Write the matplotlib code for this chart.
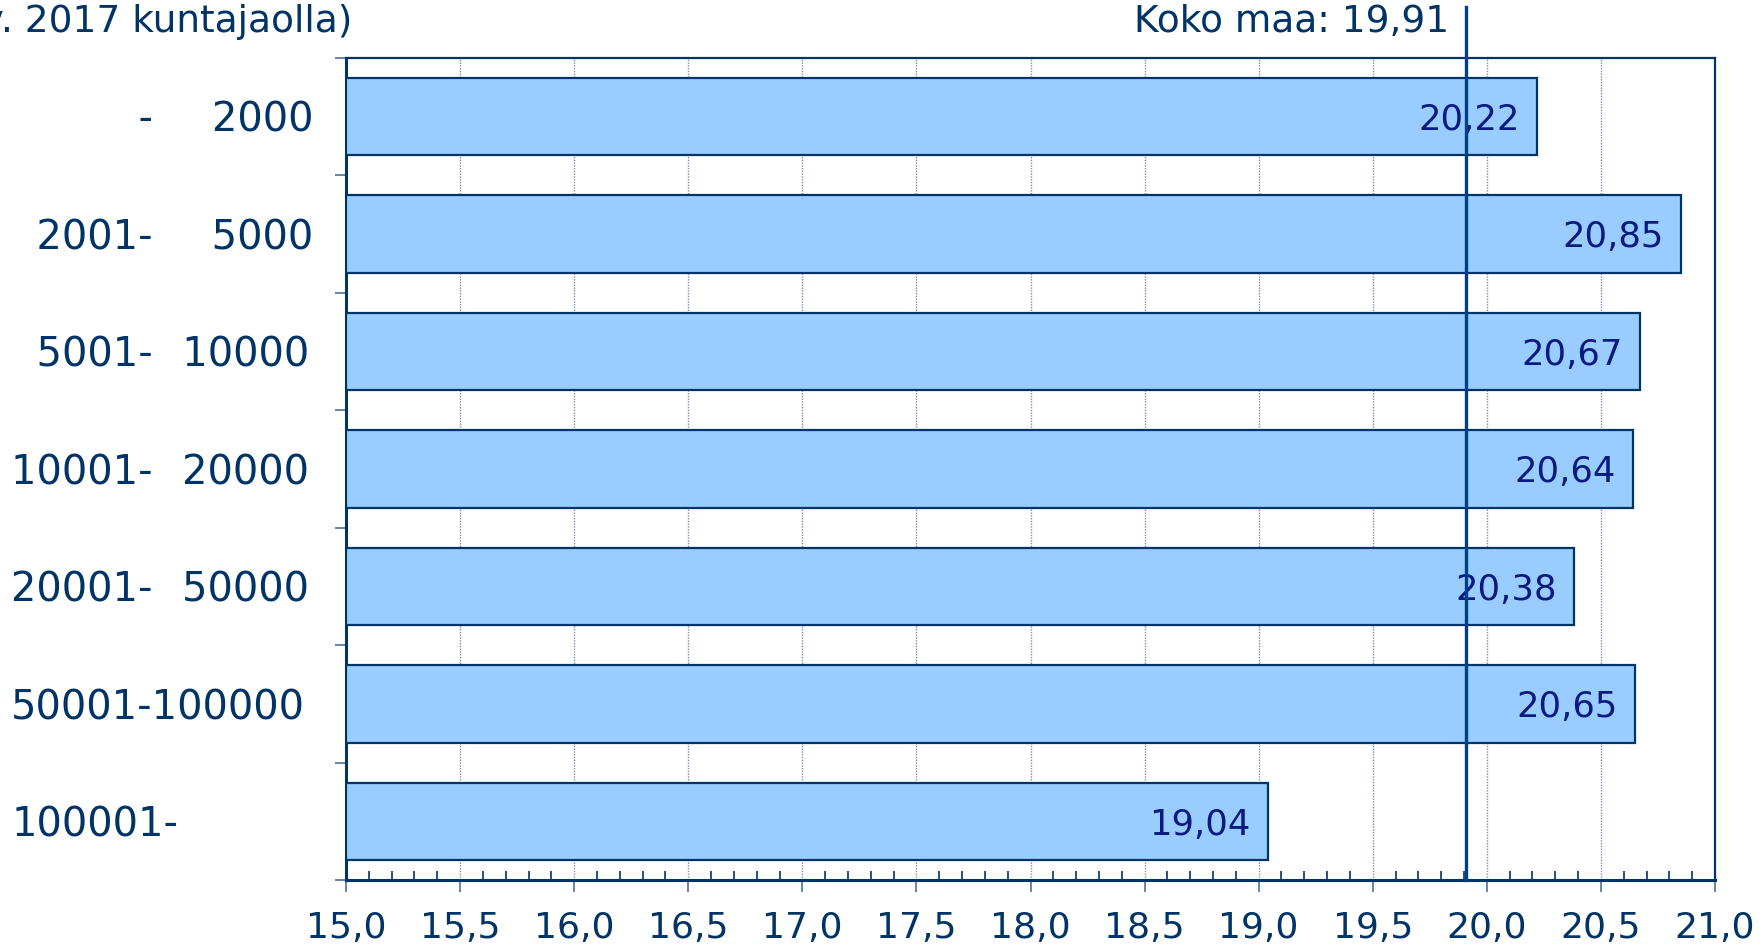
import matplotlib.pyplot as plt
from matplotlib.ticker import MultipleLocator, FixedLocator

# kuntakokoluokat ja arvot
luokat = ["          -    \u20092000",
          "  2001-    \u20095000",
          "  5001-  \u200a10000",
          "10001-  \u200a20000",
          "20001-  \u200a50000",
          "50001-100000",
          "100001-"]
arvot = [20.22, 20.85, 20.67, 20.64, 20.38, 20.65, 19.04]
koko_maa = 19.91
x_ticks = [15.0, 15.5, 16.0, 16.5, 17.0, 17.5, 18.0, 18.5, 19.0, 19.5, 20.0, 20.5, 21.0]

navy = "#003366"
plt.rcParams['font.family'] = ['DejaVu Sans']

fig = plt.figure(figsize=(17.59, 9.48), dpi=100)
ax = fig.add_axes([0.1967, 0.0717, 0.7783, 0.8676])

y = list(range(len(luokat)))
ax.barh(y, [a - 15 for a in arvot], left=15, height=0.66, color="#99ccff",
        edgecolor=navy, linewidth=1.6, zorder=3)

for yi, a in zip(y, arvot):
    ax.text(a - 0.075, yi + 0.03, f"{a:.2f}".replace(".", ","), ha="right", va="center",
            fontsize=25.5, color="#0a1a80", zorder=4)

# koko maan viiva
ax.plot([koko_maa, koko_maa], [6.5, -0.93], color="#003f87", linewidth=2.4,
        clip_on=False, zorder=5)
ax.text(koko_maa - 0.075, -0.8, "Koko maa: " + f"{koko_maa:.2f}".replace(".", ","),
        ha="right", va="center", fontsize=27, color=navy)

ax.set_xlim(15, 21)
ax.set_ylim(6.5, -0.5)

ax.set_xticks(x_ticks, [f"{t:.1f}".replace(".", ",") for t in x_ticks])
ax.xaxis.set_minor_locator(MultipleLocator(0.1))
ax.tick_params(axis="x", which="major", direction="out", length=8.5, width=1.2,
               color="#506f99", labelsize=26, labelcolor=navy, pad=14)
ax.tick_params(axis="x", which="minor", direction="in", length=6.5, width=1.2,
               color=navy)

ax.set_yticks(y, luokat)
ax.yaxis.set_minor_locator(FixedLocator([i - 0.5 for i in range(len(luokat) + 1)]))
ax.tick_params(axis="y", which="major", length=0, labelsize=28.8, labelcolor=navy, pad=241)
ax.tick_params(axis="y", which="minor", direction="out", length=8, width=1.2,
               color="#506f99")
for lbl in ax.get_yticklabels():
    lbl.set_horizontalalignment("left")

ax.grid(axis="x", which="major", linestyle=(0, (1, 1)), color="#7f8fa8",
        linewidth=1.0, zorder=0)
ax.set_axisbelow(True)

for s in ax.spines.values():
    s.set_color(navy)
    s.set_linewidth(1.6)
ax.spines["left"].set_linewidth(2.2)
ax.spines["bottom"].set_linewidth(2.2)

fig.text(352 / 1759, 1 - 22 / 948, "(v. 2017 kuntajaolla)", ha="right", va="center",
         fontsize=27, color=navy)

plt.savefig("out.png", dpi=100)
